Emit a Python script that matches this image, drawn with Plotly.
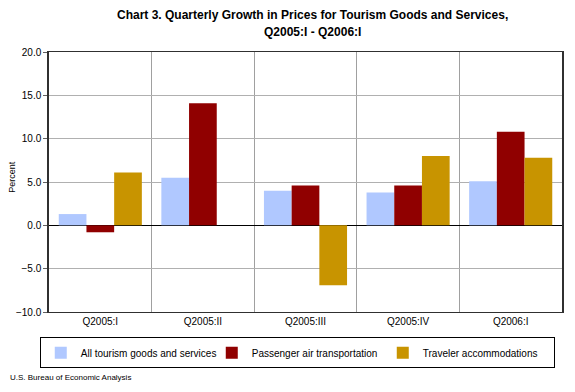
import plotly.graph_objects as go

quarters = ['Q2005:I', 'Q2005:II', 'Q2005:III', 'Q2005:IV', 'Q2006:I']
all_tourism = [1.3, 5.5, 4.0, 3.8, 5.1]
air_transport = [-0.8, 14.1, 4.6, 4.6, 10.8]
accommodations = [6.1, 0.0, -6.9, 8.0, 7.8]
y_ticks = [-10, -5, 0, 5, 10, 15, 20]

font = 'Arial, Liberation Sans, sans-serif'

fig = go.Figure()
fig.add_trace(go.Bar(x=quarters, y=all_tourism, name='All tourism goods and services',
                     marker=dict(color='#B0C8FF', line=dict(width=0))))
fig.add_trace(go.Bar(x=quarters, y=air_transport, name='Passenger air transportation',
                     marker=dict(color='#900000', line=dict(width=0))))
fig.add_trace(go.Bar(x=quarters, y=accommodations, name='Traveler accommodations',
                     marker=dict(color='#C89400', line=dict(width=0))))

# page body adds 8px offset, so margins are shifted to keep the plot area in place
fig.update_layout(
    width=575, height=392,
    margin=dict(l=41, r=21, t=44, b=88, autoexpand=False),
    paper_bgcolor='white', plot_bgcolor='white',
    font=dict(family=font, size=10, color='black'),
    barmode='group', bargap=0.19, bargroupgap=0,
    showlegend=True,
    legend=dict(orientation='h', x=-0.018, xanchor='left', y=-0.097, yanchor='top',
                bordercolor='black', borderwidth=1, bgcolor='white',
                font=dict(size=10, family=font), entrywidth=126,
                itemwidth=30, tracegroupgap=0),
    xaxis=dict(type='category', tickson='boundaries', showgrid=True, gridcolor='#A0A0A0',
               gridwidth=1, showline=True, linecolor='#303030', mirror=True,
               ticks='outside', ticklen=5, tickcolor='white',
               tickfont=dict(size=10), automargin=False),
    yaxis=dict(range=[-10, 20], tickvals=y_ticks, tickformat='.1f', showgrid=True,
               gridcolor='#B0B0B0', gridwidth=1, zeroline=True, zerolinecolor='black',
               zerolinewidth=1, showline=True, linecolor='#303030', linewidth=1.5,
               mirror=True, ticks='outside', ticklen=4, tickcolor='#606060',
               tickfont=dict(size=10), automargin=False),
)

# two-line title, placed as separate lines to match the spacing
fig.add_annotation(text='<b>Chart 3. Quarterly Growth in Prices for Tourism Goods and Services,</b>',
                   xref='paper', yref='paper', x=0.513, y=1.142, xanchor='center',
                   yanchor='middle', showarrow=False, font=dict(size=12, family=font))
fig.add_annotation(text='<b>Q2005:I - Q2006:I</b>',
                   xref='paper', yref='paper', x=0.513, y=1.077, xanchor='center',
                   yanchor='middle', showarrow=False, font=dict(size=12, family=font))

fig.add_annotation(text='Percent', xref='paper', yref='paper', x=-0.072, y=0.52,
                   xanchor='center', yanchor='middle', textangle=-90, showarrow=False,
                   font=dict(size=9, family=font))
fig.add_annotation(text='U.S. Bureau of Economic Analysis', xref='paper', yref='paper',
                   x=-0.08, y=-0.228, xanchor='left', yanchor='top', showarrow=False,
                   font=dict(size=8, family=font))

fig.write_html("out.html")
